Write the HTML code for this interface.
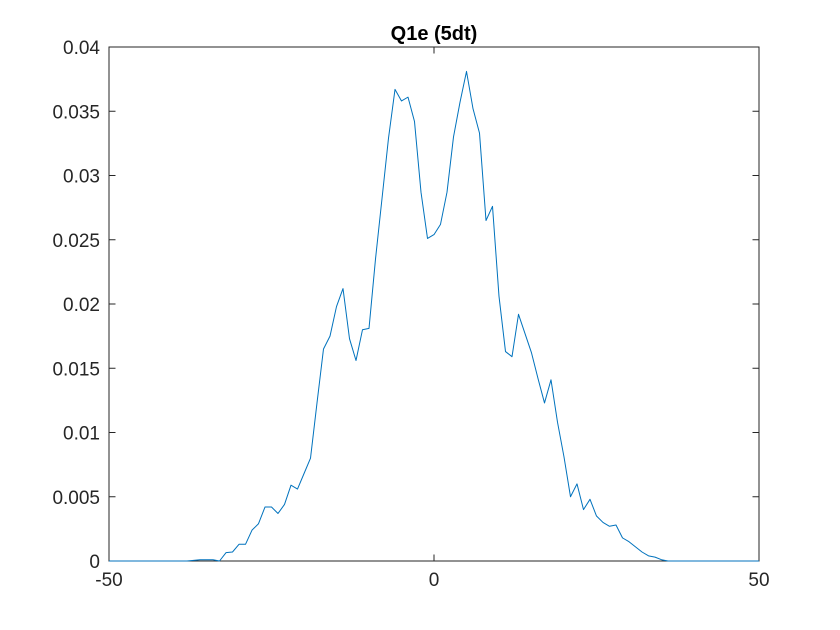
<!DOCTYPE html>
<html><head><meta charset="utf-8"><style>
body{margin:0;background:#fff}
svg{display:block;font-family:"Liberation Sans",Arial,sans-serif}
</style></head><body>
<svg id="chart" width="840" height="630">
<rect width="840" height="630" fill="#fff"/>
<text x="434" y="40" text-anchor="middle" style="font-size:20px;font-weight:bold" fill="#000">Q1e (5dt)</text>
<g id="axes"></g>
</svg>
<script>
const xValues = [];
for (let i = -50; i <= 50; i++) xValues.push(i);
const yValues = [
0,0,0,0,0,0,0,0,0,0, 0,0,0,0.00005,0.0001,0.0001,0.0001,0,0.00065,0.0007,
0.0013,0.0013,0.0024,0.0029,0.0042,0.0042,0.0037,0.0044,0.0059,0.0056,
0.0068,0.0080,0.0123,0.0165,0.0175,0.0198,0.0212,0.0173,0.0156,0.0180,
0.0181,0.0235,0.0282,0.0329,0.0367,0.0358,0.0361,0.0342,0.0287,0.0251,
0.0254,0.0262,0.0287,0.0330,0.0357,0.0381,0.0352,0.0333,0.0265,0.0276,
0.0206,0.0163,0.0159,0.0192,0.0177,0.0162,0.0142,0.0123,0.0141,0.0108,
0.0081,0.0050,0.0060,0.0040,0.0048,0.0035,0.0030,0.0027,0.0028,0.0018,
0.0015,0.0011,0.0007,0.0004,0.0003,0.0001,0,0,0,0,
0,0,0,0,0,0,0,0,0,0,0];
const xTicks = [-50, 0, 50];
const xTickLabels = ["-50", "0", "50"];
const yTicks = [0,0.005,0.01,0.015,0.02,0.025,0.03,0.035,0.04];
const yTickLabels = ["0","0.005","0.01","0.015","0.02","0.025","0.03","0.035","0.04"];

const L=109,R=759,T=47,B=561;
const xs = v => L + (v + 50) / 100 * (R - L);
const ys = v => B - v / 0.04 * (B - T);
const NS="http://www.w3.org/2000/svg";
const g=document.getElementById('axes');
function mk(tag,attrs,parent){const e=document.createElementNS(NS,tag);for(const k in attrs)e.setAttribute(k,attrs[k]);(parent||g).appendChild(e);return e;}

const box=mk('rect',{x:L,y:T,width:R-L,height:B-T,fill:'none',stroke:'#262626','stroke-width':1});



xTicks.forEach((t,i)=>{
  const x=xs(t);
  const a=mk('line',{x1:x,y1:B,x2:x,y2:B-6.5,stroke:'#262626'});
  
  
  const b=mk('line',{x1:x,y1:T,x2:x,y2:T+6.5,stroke:'#262626'});
  
  
  const tx=mk('text',{x:x,y:B+25,'text-anchor':'middle',style:'font-size:19px',fill:'#262626'});
  tx.textContent=xTickLabels[i];
  
  
});
yTicks.forEach((t,i)=>{
  const y=ys(t);
  const a=mk('line',{x1:L,y1:y,x2:L+6.5,y2:y,stroke:'#262626'});
  
  
  const b=mk('line',{x1:R,y1:y,x2:R-6.5,y2:y,stroke:'#262626'});
  
  
  const tx=mk('text',{x:L-9,y:y+7,'text-anchor':'end',style:'font-size:19px',fill:'#262626'});
  tx.textContent=yTickLabels[i];
  
  
});

const pts=xValues.map((v,i)=>xs(v).toFixed(2)+','+ys(yValues[i]).toFixed(2)).join(' ');
const line=mk('polyline',{points:pts,fill:'none',stroke:'#0072BD','stroke-width':1,'stroke-linejoin':'round'});


</script>
</body></html>
